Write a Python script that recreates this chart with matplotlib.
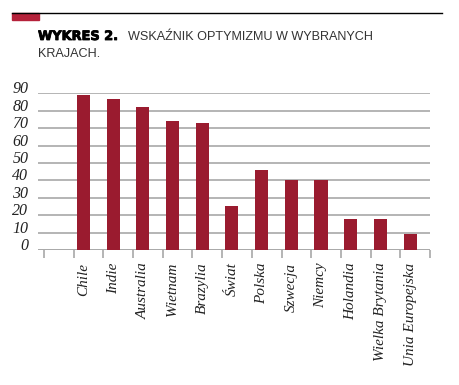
import numpy as np
import matplotlib
matplotlib.use("Agg")
from matplotlib import pyplot as plt
from matplotlib.patches import Rectangle
from matplotlib.lines import Line2D
import matplotlib.patheffects as pe

countries = ["Chile", "Indie", "Australia", "Wietnam", "Brazylia", "Świat", "Polska",
             "Szwecja", "Niemcy", "Holandia", "Wielka Brytania", "Unia Europejska"]
values = [89, 87, 82, 74, 73, 25, 46, 40, 40, 18, 18, 9]
y_ticks = list(range(0, 100, 10))

bar_color = "#9a1b2f"
grid_color = "#a8a8a8"
serif = ["Liberation Serif", "DejaVu Serif"]

fig = plt.figure(figsize=(4.6, 3.85), dpi=100)
ax = fig.add_axes([38 / 460, 1 - 250 / 385, 392 / 460, (250 - 93.3) / 385])

x = np.arange(1, len(countries) + 1)
ax.bar(x, values, width=0.44, color=bar_color, zorder=3)

ax.set_xlim(-0.53, len(countries) + 0.67)
ax.set_ylim(0, 90)
ax.set_yticks(y_ticks)
ax.set_yticklabels([str(v) for v in y_ticks], fontfamily=serif, fontstyle="italic",
                   fontsize=11.5, color="#222222")
for lab in ax.get_yticklabels():
    lab.set_verticalalignment("baseline")
ax.yaxis.grid(True, color=grid_color, linewidth=1.2, zorder=0)
ax.tick_params(axis="y", length=0, pad=7)

# tick labels at bar centers, tick marks between categories
ax.set_xticks(x)
ax.set_xticklabels(countries, rotation=90, fontfamily=serif, fontstyle="italic",
                   fontsize=11, color="#222222", va="top", ha="center")
ax.tick_params(axis="x", which="major", length=0, pad=9)
ax.set_xticks(np.arange(0, len(countries) + 2) - 0.33, minor=True)
ax.tick_params(axis="x", which="minor", length=6, color=grid_color, width=1.2)

for s in ax.spines.values():
    s.set_visible(False)
ax.axhline(0, color=grid_color, linewidth=1.2, zorder=1)

# header decoration
fig.add_artist(Line2D([12 / 460, 442 / 460], [1 - 13 / 385, 1 - 13 / 385],
                      color="black", linewidth=1.0))
fig.add_artist(Rectangle((12 / 460, 1 - 19.5 / 385), 27 / 460, 6.5 / 385,
                         color="#b5213a", transform=fig.transFigure))

fig.text(38 / 460, 1 - 40 / 385, "WYKRES 2.", fontsize=9.3, fontweight="bold",
         color="black", va="baseline", fontfamily="DejaVu Sans",
         path_effects=[pe.withStroke(linewidth=0.6, foreground="black")])
fig.text(128 / 460, 1 - 40 / 385, "WSKAŹNIK OPTYMIZMU W WYBRANYCH", fontsize=9.1,
         color="#333333", va="baseline", fontfamily="Liberation Sans")
fig.text(38 / 460, 1 - 57 / 385, "KRAJACH.", fontsize=9.1,
         color="#333333", va="baseline", fontfamily="Liberation Sans")

fig.savefig("out.png", dpi=100)
